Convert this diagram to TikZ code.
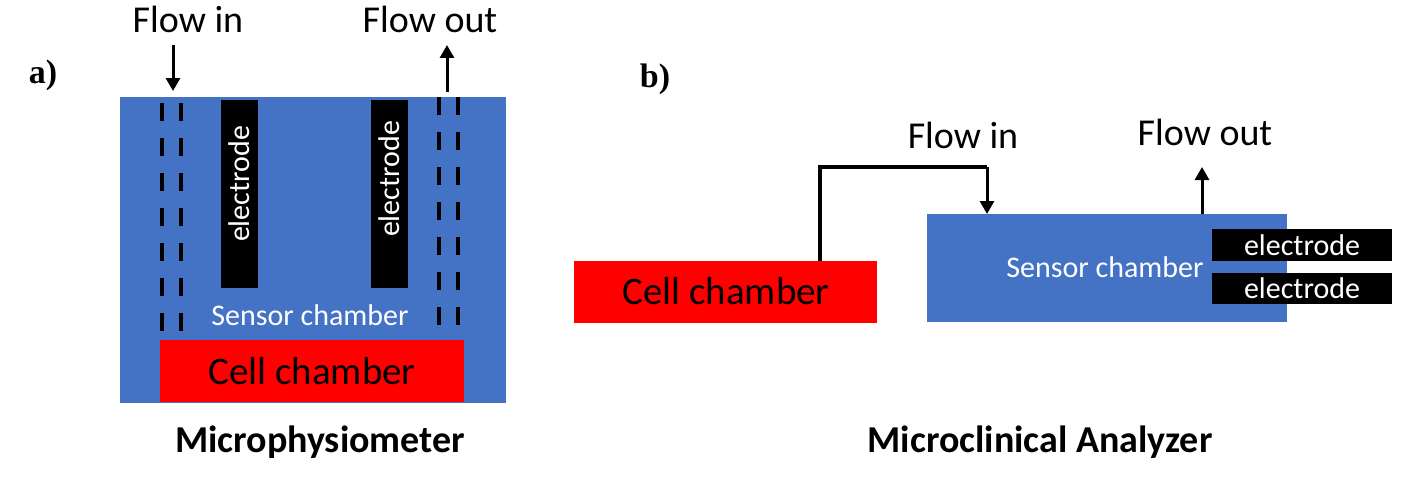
\documentclass[tikz,border=0pt]{standalone}
\usepackage{fontspec}
\setmainfont{Carlito}
\newfontfamily\panelfont{Liberation Serif}
\usetikzlibrary{positioning,calc,arrows.meta}
\definecolor{chamberblue}{HTML}{4472C4}
\newcommand*{\fsz}[1]{\fontsize{#1}{#1}\selectfont}

\begin{document}
\begin{tikzpicture}[x=1pt,y=-1pt,
  box/.style={inner sep=0pt,outer sep=0pt,anchor=north west},
  sensor/.style={box,fill=chamberblue},
  cellbox/.style={box,fill=red},
  elecbox/.style={box,fill=black},
  lbl/.style={anchor=base,inner sep=0pt},
  flowlbl/.style={lbl,font=\fsz{38}},
  celllbl/.style={lbl,font=\fsz{39}},
  sensorlbl/.style={lbl,text=white,font=\fsz{30}},
  eleclbl/.style={text=white,inner sep=0pt,font=\fsz{30}},
  titlelbl/.style={lbl,font=\bfseries\fsz{38}},
  panellbl/.style={lbl,font=\panelfont\bfseries\fsz{34}},
  tube/.style={line width=4.5pt,dash pattern=on 18pt off 17pt},
  flow/.style={line width=3pt,-{Triangle[length=13pt,width=14pt]}},
  pipe/.style={line width=3.5pt}]
\useasboundingbox (0,0) rectangle (1407,495);
% a) microphysiometer
\node[panellbl] (pa) at (43,83) {a)};
\node[sensor,minimum width=386pt,minimum height=306pt] (sensA) at (120,97) {};
\draw[tube] (162,103) -- (162,348);
\draw[tube] (181,103) -- (181,348);
\draw[tube] (439,97) -- (439,345);
\draw[tube] (458,97) -- (458,345);
\node[elecbox,minimum width=37pt,minimum height=188pt] (elA1) at (221,100) {};
\node[elecbox,minimum width=37pt,minimum height=188pt] (elA2) at (371,100) {};
\node[eleclbl,rotate=90] at ($(elA1.center)+(0,-10)$) {electrode};
\node[eleclbl,rotate=90] at ($(elA2.center)+(0,-15)$) {electrode};
\node[sensorlbl] (scA) at (310,325) {Sensor chamber};
\node[cellbox,minimum width=304pt,minimum height=62pt] (cellA) at (160,340) {};
\node[celllbl] at (312,384) {Cell chamber};
% flow labels and arrows
\node[flowlbl] (finA) at (188,33) {Flow in};
\node[flowlbl] (foutA) at (430,33) {Flow out};
\draw[flow] (173,45) -- (173,91);
\draw[flow] (447,92) -- (447,45);
\node[titlelbl] (tA) at (320,452) {Microphysiometer};
% b) microclinical analyzer
\node[panellbl] (pb) at (655,87) {b)};
\node[cellbox,minimum width=303pt,minimum height=62pt] (cellB) at (574,261) {};
\node[celllbl] at (726,304) {Cell chamber};
\node[sensor,minimum width=360pt,minimum height=108pt] (sensB) at (927,214) {};
\node[sensorlbl] (scB) at (1105,277) {Sensor chamber};
\node[elecbox,minimum width=180pt,minimum height=32pt,text=white,font=\fsz{30}] (elB1) at (1212,229) {electrode};
\node[elecbox,minimum width=180pt,minimum height=31pt,text=white,font=\fsz{30}] (elB2) at (1212,273) {electrode};
\coordinate (tap) at ($(cellB.north west)+(246,0)$);
\coordinate (inlet) at ($(sensB.north west)+(60,0)$);
\coordinate (outlet) at ($(sensB.north west)+(275,0)$);
\draw[pipe] (tap) |- ($(inlet)+(0,-47)$) coordinate (bend);
\draw[flow] (bend) -- (inlet);
\draw[flow] (outlet) -- ++(0,-47);
\node[flowlbl] (finB) at (963,148) {Flow in};
\node[flowlbl] (foutB) at (1205,145) {Flow out};
\node[titlelbl] (tB) at (1040,452) {Microclinical Analyzer};
\end{tikzpicture}
\end{document}
